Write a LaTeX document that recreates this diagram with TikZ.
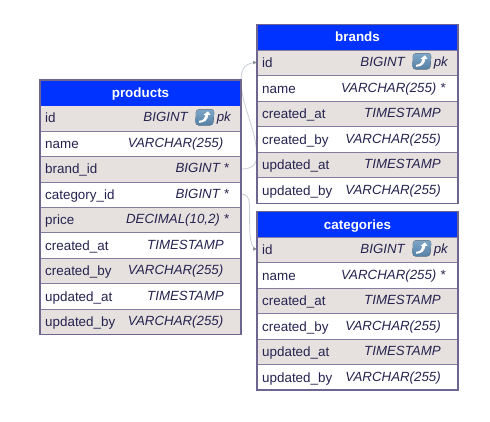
\documentclass[tikz,border=0pt]{standalone}
\usepackage{fontspec}
\setmainfont{Liberation Sans}
\definecolor{hdr}{HTML}{0033FF}
\definecolor{alt}{HTML}{E6E1DE}
\definecolor{edge}{HTML}{6E6590}
\definecolor{ink}{HTML}{262350}
\definecolor{lnk}{HTML}{C8CED8}
\definecolor{keyb}{HTML}{5E8FB8}
\tikzset{x=1pt,y=-1pt,
 titlebar/.style={fill=hdr,draw=none},
 frame/.style={draw=edge,line width=1.3pt},
 band/.style={draw=edge!85,line width=0.9pt,fill=alt},
 plain/.style={draw=edge!85,line width=0.9pt,fill=white},
 cellname/.style={anchor=base west,text=ink,font=\fontsize{13.4}{15}\selectfont,inner sep=0pt},
 celltype/.style={anchor=base east,text=ink,font=\fontsize{13.3}{15}\selectfont\itshape,inner sep=0pt},
 title/.style={anchor=base,text=white,font=\fontsize{13.4}{15}\selectfont\bfseries,inner sep=0pt},
 link/.style={draw=lnk,line width=0.8pt},
 linkhead/.style={fill=lnk!70!black,draw=none},
 keyicon/.style={top color=keyb!80,bottom color=keyb!90!black,rounded corners=3pt,draw=none},
 keyarrow/.style={fill=white,draw=none}}
\begin{document}
\begin{tikzpicture}
\useasboundingbox (0,0) rectangle (490,421);
\fill[white] (0,0) rectangle (490,421);
\coordinate (brandfrom) at (241,169);
\coordinate (brandto) at (257,62.5);
\coordinate (catfrom) at (241,194);
\coordinate (catto) at (257,249);
\draw[link] (brandfrom) .. controls (252,169) and (257,165) .. (257,155) .. controls (255,125) and (241,105) .. (241,80) .. controls (241,68) and (246,62.5) .. (brandto);
\fill[linkhead] (brandto) -- ++(-4,-1.8) -- ++(0,3.6) -- cycle;
\draw[link] (catfrom) .. controls (247,194) and (249,197) .. (249.5,205) .. controls (250,225) and (248,249) .. (catto);
\fill[linkhead] (catto) -- ++(-4,-1.8) -- ++(0,3.6) -- cycle;
% products
\foreach \t/\b/\s in {105.5/131/band,131/156.5/plain,156.5/182/band,182/207/plain,207/232.5/band,232.5/258/plain,258/283.5/band,283.5/309/plain,309/334.5/band}
 \draw[\s] (40,\t) rectangle (241,\b);
\fill[titlebar] (40,80) rectangle (241,105.5);
\draw[frame] (40,80) rectangle (241,334.5);
% brands
\foreach \t/\b/\s in {50/75.5/band,75.5/101/plain,101/126.5/band,126.5/152/plain,152/177.5/band,177.5/203.5/plain}
 \draw[\s] (257,\t) rectangle (458,\b);
\fill[titlebar] (257,24.5) rectangle (458,50);
\draw[frame] (257,24.5) rectangle (458,203.5);
% categories
\foreach \t/\b/\s in {237/262.5/band,262.5/288/plain,288/313.5/band,313.5/339/plain,339/364.5/band,364.5/390/plain}
 \draw[\s] (257,\t) rectangle (458,\b);
\fill[titlebar] (257,211.5) rectangle (458,237);
\draw[frame] (257,211.5) rectangle (458,390);
% titles
\node[title] (ptitle) at (140.5,97) {products};
\node[title] (btitle) at (357.5,41) {brands};
\node[title] (ctitle) at (357.5,229) {categories};
% products rows
\foreach \y/\n/\ty/\tx in {
 122.5/id/BIGINT/188,
 148.5/name/VARCHAR(255)/223.5,
 173.5/brand\_id/BIGINT */229,
 199.5/category\_id/BIGINT */229,
 224.5/price/{DECIMAL(10,2) *}/229,
 250.5/created\_at/TIMESTAMP/224,
 275.5/created\_by/VARCHAR(255)/223.5,
 301.5/updated\_at/TIMESTAMP/224,
 326.5/updated\_by/VARCHAR(255)/223.5}{
 \node[cellname] at (45,\y) {\n};
 \node[celltype] at (\tx,\y-1) {\ty};
}
\node[celltype] (ppk) at (231,121.5) {pk};
\foreach \cx/\cy in {205/117.3,422/61.3,422/248.3}{
 \begin{scope}[shift={(\cx,\cy)}]
 \fill[keyicon] (-9,-8) -- (9.5,-8) -- (8,8) -- (-9.5,8) -- cycle;
 \fill[keyarrow] (-6,3.5) .. controls (-1,3.5) and (0,0) .. (0.5,-2.5) -- (-1.5,-2.5) -- (3,-6) -- (5.5,-2.5) -- (3.3,-2.5) .. controls (3,2) and (0,5.5) .. (-6,5.5) -- cycle;
 \end{scope}
}
% brands and categories rows
\foreach \d in {0,187}{
 \foreach \y/\n/\ty/\tx in {
 67.5/id/BIGINT/405,
 93.5/name/VARCHAR(255) */445.5,
 118.5/created\_at/TIMESTAMP/441,
 144.5/created\_by/VARCHAR(255)/441,
 169.5/updated\_at/TIMESTAMP/441,
 195.5/updated\_by/VARCHAR(255)/441}{
 \node[cellname] at (262,\y+\d) {\n};
 \node[celltype] at (\tx,\y+\d-1) {\ty};
 }
 \node[celltype] at (448,66.5+\d) {pk};
}
\end{tikzpicture}
\end{document}
